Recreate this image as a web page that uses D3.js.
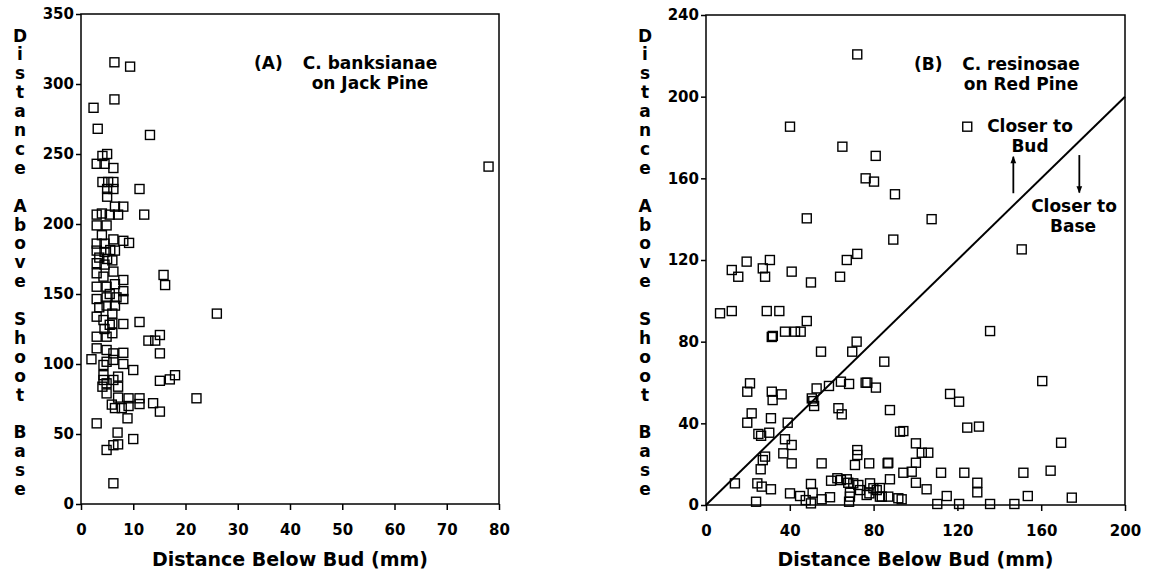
<!DOCTYPE html>
<html>
<head>
<meta charset="utf-8">
<script src="https://cdn.jsdelivr.net/npm/d3@7"></script>
<style>
  body { margin: 0; background: #fff; }
  svg { display: block; }
  text { font-family: "DejaVu Sans", sans-serif; font-weight: bold; fill: #000; }
  .axis path, .axis line { stroke: #000; stroke-width: 1.5; }
  .axis text { font-size: 15px; font-family: "DejaVu Sans", sans-serif; font-weight: bold; }
</style>
</head>
<body>
<svg id="chart" width="1149" height="573"></svg>
<script>
// (A) C. banksianae on Jack Pine: [distance below bud, distance above shoot base]
const jackPine = [
  [6.4, 315.5], [9.4, 312.4], [6.4, 289], [2.4, 283], [3.2, 268], [13.2, 263.6],
  [5.0, 250], [4.1, 248.6], [3.0, 243], [4.5, 243], [6.2, 240], [11.2, 225],
  [4.1, 230], [5.2, 230], [6.2, 230], [5.0, 225], [6.2, 225], [5.0, 219.5],
  [8.1, 212.4], [6.5, 212.4], [3.0, 206.7], [4.0, 207.5], [5.5, 206.7], [7.1, 206.7],
  [12.1, 206.7], [3.0, 199], [4.9, 199], [4.0, 192], [6.2, 189], [8.1, 188],
  [9.2, 186.5], [3.0, 186], [4.5, 186], [5.6, 181.4], [3.0, 181], [4.5, 180],
  [6.5, 181], [3.5, 176], [5.0, 175], [3.0, 172], [4.5, 171], [6.0, 174],
  [3.0, 164.8], [4.3, 162.4], [6.2, 166], [8.1, 160], [3.0, 155.2], [4.9, 155.2],
  [6.5, 157], [8.1, 152], [3.0, 146.4], [4.9, 147.6], [6.8, 147.6], [8.1, 146.4],
  [3.5, 140.5], [4.9, 141.7], [6.5, 141.7], [5.5, 150], [6.0, 136], [5.5, 128],
  [4.5, 125], [6.0, 122], [3.0, 133.8], [4.3, 131.4], [6.0, 129], [8.1, 128.6],
  [15.8, 163.6], [16.1, 156.4], [26, 136], [11.2, 130], [15.1, 120.7], [12.9, 116.7],
  [14.2, 116.7], [15.1, 107.6], [3.0, 119.5], [4.9, 119.5], [3.0, 111.2], [4.9, 110],
  [6.2, 107.6], [2.0, 103.4], [8.1, 108], [6.2, 102.9], [4.3, 99.3], [8.1, 100],
  [4.9, 101.6], [10, 95.7], [4.3, 92], [4.3, 88.6], [4.9, 86.2], [6.2, 88.6],
  [7.1, 91], [7.1, 83.8], [4.1, 83.8], [4.9, 79], [15.1, 88], [17.0, 89],
  [18.0, 92], [22.1, 75.5], [7.1, 76], [9.1, 75.5], [11.2, 75.5], [11.2, 71.4],
  [13.8, 72], [15.1, 66], [5.9, 71], [6.5, 68.5], [7.8, 68.5], [9.1, 70],
  [3.0, 57.6], [8.9, 61.2], [7.0, 51], [10, 46.4], [4.9, 38.6], [6.2, 42],
  [7.1, 42.6], [6.2, 14.8], [78, 241]
];

// (B) C. resinosae on Red Pine
const redPine = [
  [72.2, 220.7], [40.1, 185.3], [65.1, 175.5], [81, 171], [76.2, 160], [80.2, 158.4],
  [90.2, 152.2], [107.7, 140], [89.4, 130], [150.7, 125.2], [48.1, 140.4],
  [12.3, 115.1], [15.4, 111.8], [19.4, 119.2], [27.1, 115.9], [28.2, 111.8], [30.5, 120],
  [40.9, 114.3], [50.1, 109], [64, 111.8], [67.2, 120], [72.2, 123],
  [6.7, 93.9], [12.3, 95], [29, 95], [35, 95], [48.1, 90.1], [31.4, 82.3], [31.9, 82.8],
  [37.7, 84.9], [42.5, 84.9], [45.2, 84.9], [54.9, 75.1], [69.8, 75.1], [71.9, 80],
  [85.1, 70.2], [21, 59.6], [19.7, 55.5], [31.4, 55.5], [36.1, 54.2], [31.8, 51.4],
  [52.8, 57.1], [58.7, 58.3], [50.5, 52.2], [51.2, 50.9], [51.6, 48.5], [64.4, 60.4],
  [68.3, 59.3], [76.2, 59.9], [77.0, 59.9], [81.1, 57.5], [87.8, 46.5], [21.8, 44.9],
  [19.7, 40.3], [31, 42.5], [63.2, 47.4], [64.8, 44.4], [39, 40.3], [25, 34.8],
  [26.3, 33.9], [30.2, 35.4], [37.7, 32.2], [40.9, 29.4], [36.9, 25.3], [40.9, 20.4],
  [28.2, 23.7], [27.1, 22], [26.1, 17.5], [13.8, 10.6], [24.5, 10.6], [26.6, 9],
  [31, 7.7], [23.9, 1.6], [55.2, 20.4], [72.2, 26.9], [72.2, 24.5], [71.1, 19.6],
  [77.9, 20.4], [86.7, 20.4], [40.1, 5.7], [44.9, 4.4], [47.6, 2.4], [50.1, 10.3],
  [50.9, 6], [50.1, 0.8], [55.2, 2.8], [59.2, 3.8], [59.7, 11.9], [62.7, 13.1],
  [64.4, 12.2], [67.2, 12.6], [67.9, 10.9], [70.3, 10.6], [72.7, 9.8], [68.7, 6],
  [68.7, 4.1], [68.3, 1.6], [73.5, 7.3], [76.7, 4.9], [78.3, 10.6], [79.9, 8.2],
  [81.5, 7.3], [78, 5.7], [83, 4.1], [87.8, 12.6], [87, 4.1], [91.8, 3.3],
  [92.6, 35.9], [135.6, 85.2], [160.5, 60.7], [116.5, 54.4], [120.8, 50.6], [94.2, 36.2],
  [124.7, 37.9], [130.3, 38.4], [169.5, 30.5], [100.2, 30.2], [103, 25.6], [106.1, 25.6],
  [100.2, 20.7], [87, 20.7], [94.2, 15.8], [98.2, 16.3], [112.2, 15.8], [123.3, 15.8],
  [100.2, 10.9], [105.3, 7.7], [129.5, 10.9], [129.5, 6.2], [151.5, 15.8], [164.5, 16.8],
  [114.9, 4.4], [110.4, 0.5], [120.8, 0.5], [135.6, 0.5], [147.2, 0.5], [153.6, 4.4],
  [174.6, 3.6], [93.4, 2.8], [83.9, 4.1], [83, 8.3]
];

const ticksAx = [0, 10, 20, 30, 40, 50, 60, 70, 80];
const ticksAy = [0, 50, 100, 150, 200, 250, 300, 350];
const ticksBx = [0, 40, 80, 120, 160, 200];
const ticksBy = [0, 40, 80, 120, 160, 200, 240];

const xTitle = 'Distance Below Bud (mm)';
const yTitle = 'Distance Above Shoot Base';

const svg = d3.select('#chart');

const drawPanel = (cfg) => {
  const x = d3.scaleLinear().domain(cfg.xDomain).range(cfg.xRange);
  const y = d3.scaleLinear().domain(cfg.yDomain).range(cfg.yRange);
  const g = svg.append('g');

  // frame
  g.append('rect')
    .attr('x', cfg.xRange[0])
    .attr('y', cfg.yRange[1])
    .attr('width', cfg.xRange[1] - cfg.xRange[0])
    .attr('height', cfg.yRange[0] - cfg.yRange[1])
    .attr('fill', 'none')
    .attr('stroke', '#000')
    .attr('stroke-width', 1.5);

  g.append('g')
    .attr('class', 'axis')
    .attr('transform', `translate(0,${cfg.yRange[0]})`)
    .call(d3.axisBottom(x).tickValues(cfg.xTicks).tickSize(6).tickSizeOuter(0).tickPadding(14));

  g.append('g')
    .attr('class', 'axis')
    .attr('transform', `translate(${cfg.xRange[0]},0)`)
    .call(d3.axisLeft(y).tickValues(cfg.yTicks).tickSize(5).tickSizeOuter(0).tickPadding(2));

  g.selectAll('.axis .domain').remove();

  // x title
  g.append('text')
    .attr('x', (cfg.xRange[0] + cfg.xRange[1]) / 2)
    .attr('y', 566)
    .attr('text-anchor', 'middle')
    .attr('font-size', '19px')
    .text(xTitle);

  // stacked y title
  g.append('g')
    .selectAll('text')
    .data(yTitle.split(''))
    .enter()
    .append('text')
    .attr('x', cfg.yTitleX)
    .attr('y', (d, i) => 41.5 + i * 18.9)
    .attr('text-anchor', 'middle')
    .attr('font-size', '17px')
    .text(d => d);

  if (cfg.diagonal) {
    g.append('line')
      .attr('x1', x(0)).attr('y1', y(0))
      .attr('x2', x(200)).attr('y2', y(200))
      .attr('stroke', '#000')
      .attr('stroke-width', 2);
  }

  g.append('g')
    .selectAll('rect')
    .data(cfg.data)
    .enter()
    .append('rect')
    .attr('x', d => x(d[0]) - 4.5)
    .attr('y', d => y(d[1]) - 4.5)
    .attr('width', 9)
    .attr('height', 9)
    .attr('fill', 'none')
    .attr('stroke', '#000')
    .attr('stroke-width', 1.4);

  // label
  g.append('text')
    .attr('x', cfg.tagX)
    .attr('y', cfg.labelY)
    .attr('font-size', '17px')
    .text(cfg.tag);
  cfg.label.forEach((line, i) => {
    g.append('text')
      .attr('x', cfg.labelX)
      .attr('y', cfg.labelY + i * 20)
      .attr('text-anchor', 'middle')
      .attr('font-size', '17px')
      .text(line);
  });

  return { x, y, g };
};

drawPanel({
  data: jackPine,
  xDomain: [0, 80], yDomain: [0, 350],
  xRange: [81, 499], yRange: [504, 14],
  xTicks: ticksAx, yTicks: ticksAy,
  yTitleX: 20,
  tag: '(A)', tagX: 254, labelX: 370, labelY: 69,
  label: ['C. banksianae', 'on Jack Pine'],
});

const b = drawPanel({
  data: redPine,
  xDomain: [0, 200], yDomain: [0, 240],
  xRange: [706, 1125], yRange: [505, 15],
  xTicks: ticksBx, yTicks: ticksBy,
  yTitleX: 645,
  diagonal: true,
  tag: '(B)', tagX: 914, labelX: 1021, labelY: 70,
  label: ['C. resinosae', 'on Red Pine'],
});

// "closer to" annotations on panel B
const defs = svg.append('defs');
defs.append('marker')
  .attr('id', 'head')
  .attr('viewBox', '0 0 10 10')
  .attr('refX', 9).attr('refY', 5)
  .attr('markerWidth', 5).attr('markerHeight', 4)
  .attr('orient', 'auto-start-reverse')
  .append('path')
  .attr('d', 'M0,1 L10,5 L0,9 z')
  .attr('fill', '#000');

b.g.append('rect')
  .attr('x', b.x(124.7) - 4.5)
  .attr('y', b.y(185.3) - 4.5)
  .attr('width', 9).attr('height', 9)
  .attr('fill', 'none').attr('stroke', '#000').attr('stroke-width', 1.4);

const arrows = [
  { x: 146.7, from: 152.7, to: 170.6 },
  { x: 178.2, from: 171.4, to: 153 },
];
b.g.selectAll('line.arrow')
  .data(arrows)
  .enter()
  .append('line')
  .attr('class', 'arrow')
  .attr('x1', d => b.x(d.x)).attr('y1', d => b.y(d.from))
  .attr('x2', d => b.x(d.x)).attr('y2', d => b.y(d.to))
  .attr('stroke', '#000')
  .attr('stroke-width', 1.8)
  .attr('marker-end', 'url(#head)');

[['Closer to', 1030, 132], ['Bud', 1030, 152], ['Closer to', 1074, 212], ['Base', 1073, 232]]
  .forEach(([t, tx, ty]) => {
    b.g.append('text')
      .attr('x', tx).attr('y', ty)
      .attr('text-anchor', 'middle')
      .attr('font-size', '17px')
      .text(t);
  });
</script>
</body>
</html>
